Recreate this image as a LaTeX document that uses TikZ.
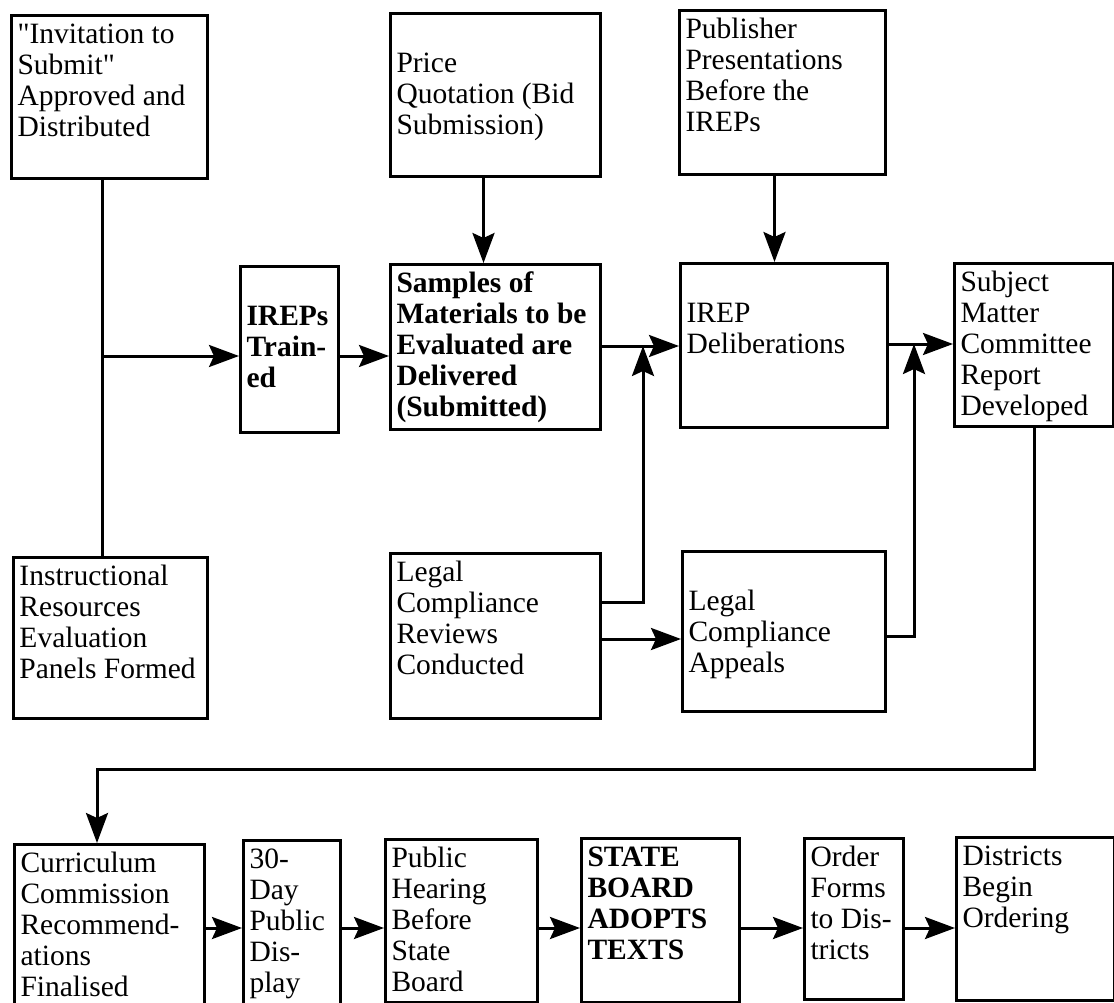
\documentclass[tikz,border=0pt]{standalone}
\usepackage{fontspec}
\setmainfont{Liberation Serif}
\usetikzlibrary{arrows.meta, calc}

\begin{document}
\begin{tikzpicture}[x=1pt, y=-1pt,
		stage/.style={draw, line width=3pt, anchor=north west, inner sep=6pt, font=\fontsize{29.5}{31}\selectfont},
		flow/.style={line width=3pt, -{Stealth[length=30pt, width=22pt, inset=5pt]}}]
	\def\stage#1#2#3#4#5#6{\node[stage] (#1) at (#2,#3) {\parbox[t][#5pt][t]{#4pt}{\strut#6}};}

	\clip (0,0) rectangle (1114,1003);

	% top part
	\stage{invite}{10}{14}{184}{151}{\textquotedbl Invitation to\\Submit\textquotedbl\\Approved and\\Distributed}
	\stage{price}{389}{12}{198}{151}{\\Price\\Quotation (Bid\\Submission)}
	\stage{publisher}{678}{9}{194}{152}{Publisher\\Presentations\\Before the\\IREPs}
	\stage{trained}{239}{265}{86}{154}{\bfseries\\IREPs\\Train-\\ed}
	\stage{samples}{389}{263}{198}{153}{\bfseries Samples of\\Materials to be\\Evaluated are\\Delivered\\(Submitted)}
	\stage{delib}{679}{262}{195}{152}{\\IREP\\Deliberations}
	\stage{subject}{953}{262}{147}{151}{Subject\\Matter\\Committee\\Report\\Developed}
	\stage{panels}{12}{556}{182}{149}{Instructional\\Resources\\Evaluation\\Panels Formed}
	\stage{reviews}{389}{552}{198}{153}{Legal\\Compliance\\Reviews\\Conducted}
	\stage{appeals}{681}{550}{191}{148}{\\Legal\\Compliance\\Appeals}

	% bottom row
	\stage{curric}{13}{843}{178}{160}{Curriculum\\Commission\\Recommend-\\ations\\Finalised}
	\stage{display}{242}{839}{85}{164}{30-\\Day\\Public\\Dis-\\play}
	\stage{hearing}{384}{838}{140}{151}{Public\\Hearing\\Before\\State\\Board}
	\stage{adopts}{580}{837}{146}{152}{\bfseries STATE\\BOARD\\ADOPTS\\TEXTS}
	\stage{forms}{803}{837}{87}{149}{Order\\Forms\\to Dis-\\tricts}
	\stage{ordering}{955}{836}{146}{151}{Districts\\Begin\\Ordering}

	\coordinate (split) at (102,356);
	\coordinate (join1) at (643,346);
	\coordinate (join2) at (914,344);
	\coordinate (tap) at (0,602);
	\coordinate (turn) at (97,769);
	\coordinate (row) at (0,928);

	\draw[line width=3pt] (invite.south -| split) -- (panels.north -| split);
	\draw[flow] (split) -- (split -| trained.west);
	\draw[flow] (trained.east |- split) -- (split -| samples.west);

	\draw[flow] ([xshift=-12pt]price.south) -- ([xshift=-12pt]price.south |- samples.north);
	\draw[flow] ([xshift=-8pt]publisher.south) -- ([xshift=-8pt]publisher.south |- delib.north);

	\draw[flow] (samples.east |- join1) -- (join1 -| delib.west);
	\draw[flow] (reviews.east |- tap) -| (join1);
	\draw[flow] ([yshift=-3pt]reviews.east) -- ([yshift=-3pt]reviews.east -| appeals.west);
	\draw[flow] (delib.east |- join2) -- (join2 -| subject.west);
	\draw[flow] ([yshift=-5pt]appeals.east) -| (join2);

	\draw[flow] (subject.south) |- (turn) -- (turn |- curric.north);

	\draw[flow] (curric.east |- row) -- (row -| display.west);
	\draw[flow] (display.east |- row) -- (row -| hearing.west);
	\draw[flow] (hearing.east |- row) -- (row -| adopts.west);
	\draw[flow] (adopts.east |- row) -- (row -| forms.west);
	\draw[flow] (forms.east |- row) -- (row -| ordering.west);
\end{tikzpicture}
\end{document}
